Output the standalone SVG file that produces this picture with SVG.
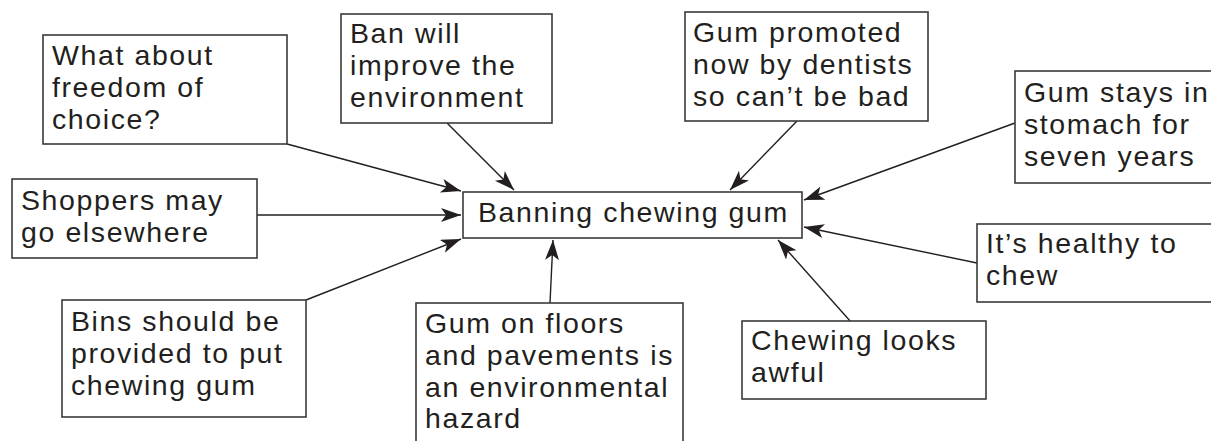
<svg xmlns="http://www.w3.org/2000/svg" width="1211" height="441" viewBox="0 0 1211 441">
  <style>
    .box { fill: #ffffff; stroke: #3a3a3a; stroke-width: 1.6; }
    .lbl { font-family: "Liberation Sans", Arial, sans-serif; font-size: 28.5px; fill: #231f20; letter-spacing: 1.6px; }
    .link { stroke: #231f20; stroke-width: 1.4; fill: none; marker-end: url(#head); }
  </style>
  <defs>
    <marker id="head" markerUnits="userSpaceOnUse" markerWidth="22" markerHeight="16" refX="20" refY="7" orient="auto">
      <path d="M0,0 L20,7 L0,14 L5,7 z" fill="#231f20"/>
    </marker>
  </defs>

  <rect width="1211" height="441" fill="#ffffff"/>

  <!-- connectors: every argument points at the central topic -->
  <g id="connectors">
    <line class="link" x1="287" y1="144" x2="461" y2="191"/>
    <line class="link" x1="257" y1="215" x2="461" y2="215"/>
    <line class="link" x1="306" y1="300" x2="461" y2="239"/>
    <line class="link" x1="447" y1="123" x2="514" y2="190"/>
    <line class="link" x1="797" y1="121" x2="730" y2="190"/>
    <line class="link" x1="1015" y1="123" x2="804" y2="200"/>
    <line class="link" x1="977" y1="263" x2="804" y2="227"/>
    <line class="link" x1="851" y1="322" x2="778" y2="240"/>
    <line class="link" x1="550" y1="303" x2="553" y2="240"/>
  </g>

  <g id="topic">
    <rect class="box" x="463" y="192" width="339" height="46"/>
    <text class="lbl" x="478" y="222">Banning chewing gum</text>
  </g>

  <g id="freedom">
    <rect class="box" x="43" y="35" width="244" height="109"/>
    <text class="lbl" x="52" y="65">What about</text>
    <text class="lbl" x="52" y="97">freedom of</text>
    <text class="lbl" x="52" y="129">choice?</text>
  </g>

  <g id="shoppers">
    <rect class="box" x="12" y="179" width="245" height="79"/>
    <text class="lbl" x="21" y="210">Shoppers may</text>
    <text class="lbl" x="21" y="242">go elsewhere</text>
  </g>

  <g id="bins">
    <rect class="box" x="62" y="300" width="244" height="117"/>
    <text class="lbl" x="71" y="331">Bins should be</text>
    <text class="lbl" x="71" y="363">provided to put</text>
    <text class="lbl" x="71" y="395">chewing gum</text>
  </g>

  <g id="environment">
    <rect class="box" x="341" y="14" width="211" height="109"/>
    <text class="lbl" x="350" y="43">Ban will</text>
    <text class="lbl" x="350" y="75">improve the</text>
    <text class="lbl" x="350" y="107">environment</text>
  </g>

  <g id="dentists">
    <rect class="box" x="685" y="12" width="243" height="109"/>
    <text class="lbl" x="693" y="42">Gum promoted</text>
    <text class="lbl" x="693" y="74">now by dentists</text>
    <text class="lbl" x="693" y="106">so can’t be bad</text>
  </g>

  <g id="stomach">
    <rect class="box" x="1015" y="71" width="210" height="112"/>
    <text class="lbl" x="1024" y="102">Gum stays in</text>
    <text class="lbl" x="1024" y="134">stomach for</text>
    <text class="lbl" x="1024" y="166">seven years</text>
  </g>

  <g id="healthy">
    <rect class="box" x="977" y="224" width="250" height="78"/>
    <text class="lbl" x="986" y="253">It’s healthy to</text>
    <text class="lbl" x="986" y="285">chew</text>
  </g>

  <g id="awful">
    <rect class="box" x="742" y="321" width="244" height="78"/>
    <text class="lbl" x="751" y="350">Chewing looks</text>
    <text class="lbl" x="751" y="382">awful</text>
  </g>

  <g id="floors">
    <rect class="box" x="416" y="303" width="267" height="150"/>
    <text class="lbl" x="425" y="333">Gum on floors</text>
    <text class="lbl" x="425" y="365">and pavements is</text>
    <text class="lbl" x="425" y="397">an environmental</text>
    <text class="lbl" x="425" y="428">hazard</text>
  </g>
</svg>
